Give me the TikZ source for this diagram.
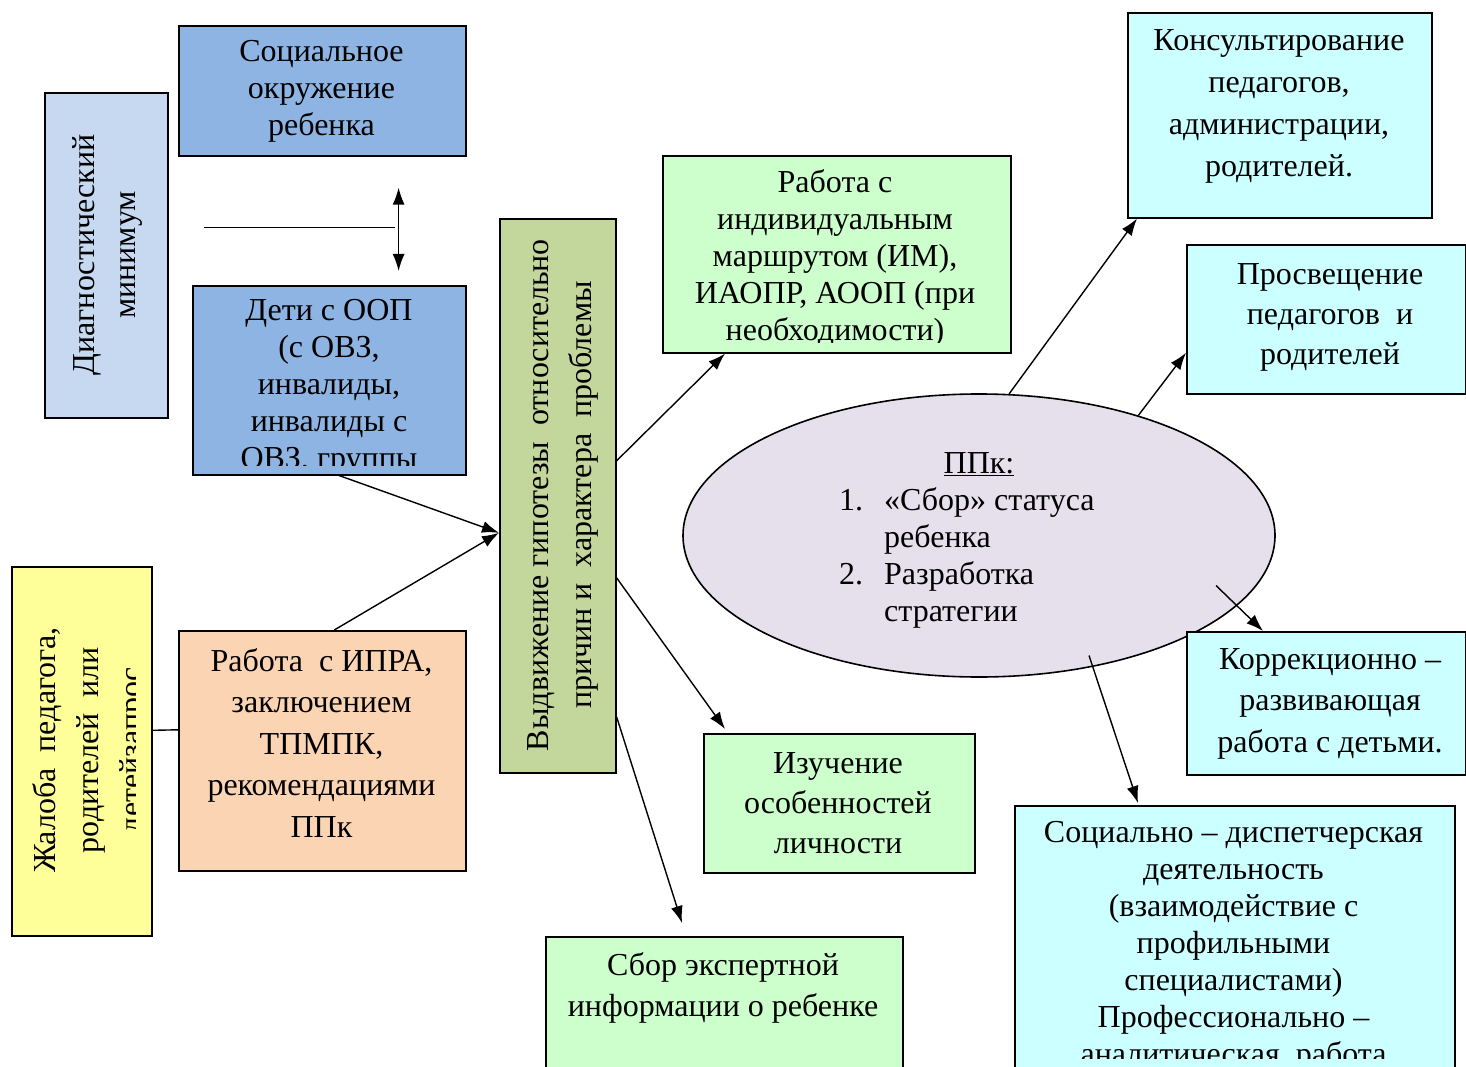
\documentclass[tikz,border=0pt]{standalone}
\usepackage{fontspec}
\setmainfont{Liberation Serif}
\usetikzlibrary{shapes.geometric,arrows.meta}

\definecolor{okrblue}{HTML}{8EB4E3}
\definecolor{diagblue}{HTML}{C6D9F1}
\definecolor{hypgreen}{HTML}{C3D69B}
\definecolor{zhalyellow}{HTML}{FFFF99}
\definecolor{ipraorange}{HTML}{FBD4B4}
\definecolor{workgreen}{HTML}{CCFFCC}
\definecolor{helpcyan}{HTML}{CCFFFF}
\definecolor{ppklilac}{HTML}{E5E0EC}

\tikzset{
  box/.style={draw=black, line width=1.6pt, inner sep=0pt, anchor=north west},
  txt/.style={align=center, inner sep=0pt, font=\fontsize{32}{#1}\selectfont},
  txt/.default=37,
  arr/.style={-{Latex[length=17pt,width=12pt]}, line width=1.4pt},
}

\begin{document}
\begin{tikzpicture}[x=1pt, y=-1pt]
            \clip (0,0) rectangle (1466,1067);
            % ellipse under the boxes
            \node[ellipse, draw=black, line width=1.6pt, fill=ppklilac, minimum width=592pt, minimum height=283pt, inner sep=0pt] (ppk) at (979,535.5) {};
            % boxes
            \node[box, fill=okrblue, minimum width=287pt, minimum height=130pt] (okr) at (178,25) {};
            \node[box, fill=diagblue, minimum width=123pt, minimum height=325pt] (diag) at (44,92) {};
            \node[box, fill=okrblue, minimum width=273pt, minimum height=189pt] (oop) at (192,285) {};
            \node[box, fill=hypgreen, minimum width=116pt, minimum height=554pt] (hyp) at (499,218) {};
            \node[box, fill=zhalyellow, minimum width=140pt, minimum height=369pt] (zhal) at (11,566) {};
            \node[box, fill=ipraorange, minimum width=287pt, minimum height=240pt] (ipra) at (178,630) {};
            \node[box, fill=workgreen, minimum width=348pt, minimum height=197pt] (im) at (662,155) {};
            \node[box, fill=workgreen, minimum width=271pt, minimum height=139pt] (izu) at (703,733) {};
            \node[box, fill=workgreen, minimum width=357pt, minimum height=150pt] (sbor) at (545,936) {};
            \node[box, fill=helpcyan, minimum width=304pt, minimum height=205pt] (kons) at (1127,12) {};
            \node[box, fill=helpcyan, minimum width=279pt, minimum height=149pt] (pros) at (1186,244) {};
            \node[box, fill=helpcyan, minimum width=279pt, minimum height=143pt] (korr) at (1186,631) {};
            \node[box, fill=helpcyan, minimum width=440pt, minimum height=280pt] (disp) at (1014,805) {};
            % texts
            \node[txt] (okr-t) at (321.5,91) {Социальное\\окружение\\ребенка};
            \node[txt=41, rotate=90] (diag-t) at (107,255) {Диагностический\\минимум};
            \begin{scope}
              \clip (192,285) rectangle (465,465);
              \node[txt] (oop-t) at (329,387) {Дети с ООП\\(с ОВЗ,\\инвалиды,\\инвалиды с\\ОВЗ, группы};
            \end{scope}
            \node[txt=43, rotate=90] (hyp-t) at (563,495) {Выдвижение гипотезы\ \ относительно\\причин и\ \ характера\ \ проблемы};
            \begin{scope}
              \clip (11,566) rectangle (135,935);
              \node[txt=43, rotate=90] (zhal-t) at (90,750) {Жалоба\ \ педагога,\\родителей\ \ или\\детейзапрос};
            \end{scope}
            \node[txt=41.5] (ipra-t) at (321.5,743) {Работа\ \ с ИПРА,\\заключением\\ТПМПК,\\рекомендациями\\ППк};
            \begin{scope}
              \clip (662,155) rectangle (1010,342);
              \node[txt] (im-t) at (835,258) {Работа с\\индивидуальным\\маршрутом (ИМ),\\ИАОПР, АООП (при\\необходимости)};
            \end{scope}
            \node[txt=40] (izu-t) at (838,803) {Изучение\\особенностей\\личности};
            \node[txt=41] (sbor-t) at (723,987.5) {Сбор экспертной\\информации о ребенке};
            \node[txt=42] (kons-t) at (1279,106.5) {Консультирование\\педагогов,\\администрации,\\родителей.};
            \node[txt=40] (pros-t) at (1330,317) {Просвещение\\педагогов\ \ и\\родителей};
            \node[txt=41.5] (korr-t) at (1330,703.5) {Коррекционно –\\развивающая\\работа с детьми.};
            \begin{scope}
              \clip (1014,805) rectangle (1454,1058);
              \node[txt] (disp-t) at (1233.5,946) {Социально – диспетчерская\\деятельность\\(взаимодействие с\\профильными\\специалистами)\\Профессионально –\\аналитическая\ \ работа};
            \end{scope}
            \node[txt] (ppk-title) at (979,464.5) {\underline{ППк:}};
            \node[inner sep=0pt, font=\fontsize{32}{37}\selectfont, anchor=west] (ppk-list) at (839,559) {\begin{tabular}{@{}p{45pt}@{}l@{}}1. & «Сбор» статуса\\ & ребенка\\ 2. & Разработка\\ & стратегии\end{tabular}};
            % connectors
            \coordinate (link-top) at ([shift={(-68pt,-31pt)}]okr.south east);
            \coordinate (link-bot) at ([shift={(-68pt,14pt)}]oop.north east);
            \draw[{Latex[length=17pt,width=12pt]}-{Latex[length=17pt,width=12pt]}, line width=1.4pt] (link-top) -- (link-bot);
            \draw[line width=1.4pt] ([shift={(35pt,27.5pt)}]diag.east) -- ++(191,0);
            \draw[arr] ([xshift=10pt]oop.south) -- ([yshift=-37pt]hyp.west);
            \draw[arr] ([xshift=12pt]ipra.north) -- ([yshift=-37pt]hyp.west);
            \draw[line width=1.4pt] ([yshift=21pt]zhal.east) -- ([yshift=21pt]ipra.west);
            \draw[arr] ([yshift=35pt]hyp.east) -- ([xshift=63pt]im.south west);
            \draw[arr] ([yshift=-82pt]hyp.east) -- ([xshift=22pt,yshift=4pt]izu.north west);
            \draw[arr] ([yshift=-221pt]hyp.east) -- ([xshift=137pt,yshift=13pt]sbor.north west);
            \coordinate (ppk-k) at ([shift={(237pt,-50pt)}]ppk.center);
            \coordinate (ppk-d) at ([shift={(110pt,-120pt)}]ppk.center);
            \draw[arr] (ppk.78) -- ([xshift=10pt]kons.south west);
            \draw[arr] (ppk.37) -- ([yshift=-33.5pt]pros.west);
            \draw[arr] (ppk-k) -- ([xshift=77pt]korr.north west);
            \draw[arr] (ppk-d) -- ([xshift=124pt,yshift=2pt]disp.north west);
\end{tikzpicture}
\end{document}
